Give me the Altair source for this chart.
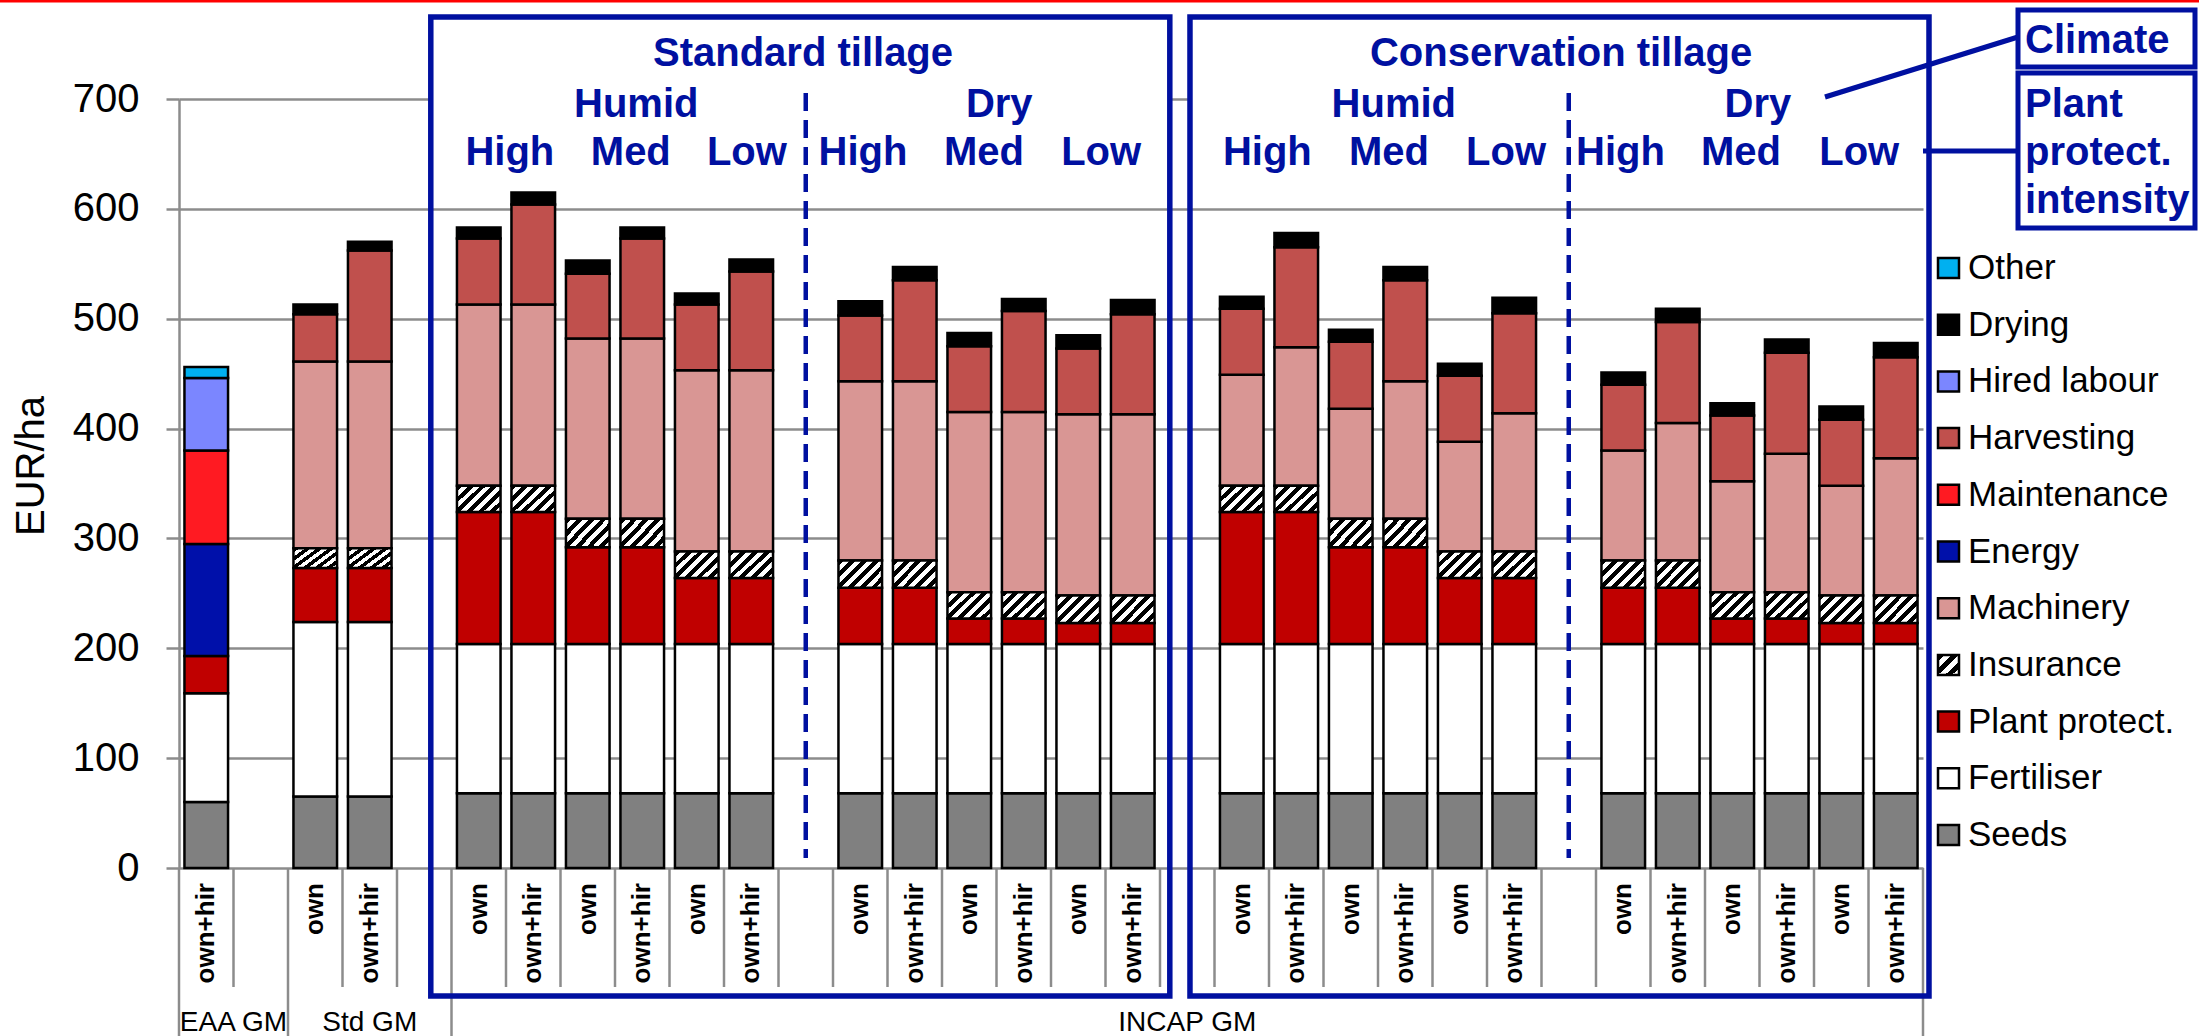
import altair as alt
import pandas as pd

# ---------------------------------------------------------------------------
# Cost components (bottom of each stack first) and their fills
components = ["Seeds", "Fertiliser", "Plant protect.", "Insurance", "Machinery",
              "Energy", "Maintenance", "Harvesting", "Hired labour", "Drying", "Other"]
component_colors = ["#808080", "#FFFFFF", "#C00000", "#FFFFFF", "#D99694",
                    "#0010AA", "#FF1A22", "#C0504D", "#7B86FF", "#000000", "#00B0F0"]

# Legend entries, top to bottom
legend_order = ["Other", "Drying", "Hired labour", "Harvesting", "Maintenance", "Energy",
                "Machinery", "Insurance", "Plant protect.", "Fertiliser", "Seeds"]

# Category slots on the x axis (empty slots separate the groups)
n_slots = 32
bar_slot = [0, 2, 3, 5, 6, 7, 8, 9, 10, 12, 13, 14, 15, 16, 17,
            19, 20, 21, 22, 23, 24, 26, 27, 28, 29, 30, 31]
bar_label = ["own+hir", "own", "own+hir",
             "own", "own+hir", "own", "own+hir", "own", "own+hir",
             "own", "own+hir", "own", "own+hir", "own", "own+hir",
             "own", "own+hir", "own", "own+hir", "own", "own+hir",
             "own", "own+hir", "own", "own+hir", "own", "own+hir"]

group_names = ["EAA GM", "Std GM", "INCAP GM"]
group_start = [0, 2, 5]
group_end = [2, 5, 32]

# EUR/ha per component, one value per bar
seeds = [60, 65, 65, 68, 68, 68, 68, 68, 68, 68, 68, 68, 68, 68, 68,
         68, 68, 68, 68, 68, 68, 68, 68, 68, 68, 68, 68]
fertiliser = [99, 159, 159, 136, 136, 136, 136, 136, 136, 136, 136, 136, 136, 136, 136,
              136, 136, 136, 136, 136, 136, 136, 136, 136, 136, 136, 136]
plant_protect = [34, 49, 49, 120, 120, 88, 88, 60, 60, 51, 51, 23, 23, 19, 19,
                 120, 120, 88, 88, 60, 60, 51, 51, 23, 23, 19, 19]
insurance = [0, 18, 18, 24, 24, 26, 26, 24, 24, 25, 25, 24, 24, 25, 25,
             24, 24, 26, 26, 24, 24, 25, 25, 24, 24, 25, 25]
machinery = [0, 170, 170, 165, 165, 164, 164, 165, 165, 163, 163, 164, 164, 165, 165,
             101, 126, 100, 125, 100, 126, 100, 125, 101, 126, 100, 125]
energy = [102, 0, 0, 0, 0, 0, 0, 0, 0, 0, 0, 0, 0, 0, 0,
          0, 0, 0, 0, 0, 0, 0, 0, 0, 0, 0, 0]
maintenance = [85, 0, 0, 0, 0, 0, 0, 0, 0, 0, 0, 0, 0, 0, 0,
               0, 0, 0, 0, 0, 0, 0, 0, 0, 0, 0, 0]
harvesting = [0, 43, 101, 60, 91, 59, 91, 60, 90, 60, 92, 60, 92, 60, 91,
              60, 91, 61, 92, 60, 91, 60, 92, 60, 92, 60, 92]
hired_labour = [66, 0, 0, 0, 0, 0, 0, 0, 0, 0, 0, 0, 0, 0, 0,
                0, 0, 0, 0, 0, 0, 0, 0, 0, 0, 0, 0]
drying = [0, 9, 8, 10, 11, 12, 10, 10, 11, 13, 12, 12, 11, 12, 13,
          11, 13, 11, 12, 11, 14, 11, 12, 11, 12, 12, 13]
other = [10, 0, 0, 0, 0, 0, 0, 0, 0, 0, 0, 0, 0, 0, 0,
         0, 0, 0, 0, 0, 0, 0, 0, 0, 0, 0, 0]

series = [seeds, fertiliser, plant_protect, insurance, machinery, energy,
          maintenance, harvesting, hired_labour, drying, other]

# Scenario headings over the bars (x in slot units)
headings = [
    ("Standard tillage", 11.45, 0), ("Humid", 8.39, 1), ("Dry", 15.05, 1),
    ("High", 6.07, 2), ("Med", 8.29, 2), ("Low", 10.42, 2),
    ("High", 12.55, 2), ("Med", 14.77, 2), ("Low", 16.92, 2),
    ("Conservation tillage", 25.36, 0), ("Humid", 22.29, 1), ("Dry", 28.97, 1),
    ("High", 19.97, 2), ("Med", 22.2, 2), ("Low", 24.35, 2),
    ("High", 26.45, 2), ("Med", 28.66, 2), ("Low", 30.83, 2),
]

# ---------------------------------------------------------------------------
# Layout
LEFT, TOP, W, H = 179, 99, 1744, 769
RIGHT, BOTTOM = 2199 - LEFT - W, 1036 - TOP - H
BLUE = "#0010A0"
GRID = "#8C8C8C"
FONT = "Liberation Sans"
heading_rows = [-33, 18, 66]

xs = alt.Scale(domain=[0, n_slots], nice=False, zero=False)
ys = alt.Scale(domain=[0, 700], nice=False)


def hatch(periods, x2, y2, ink=0.5):
    """Diagonal black/white stripes as a hard-stop linear gradient."""
    stops = []
    for k in range(periods):
        a, b, c = k / periods, (k + ink) / periods, (k + 1) / periods
        stops += [{"offset": a, "color": "black"}, {"offset": b, "color": "black"},
                  {"offset": b, "color": "white"}, {"offset": c, "color": "white"}]
    return {"gradient": "linear", "x1": 0, "y1": 0, "x2": x2, "y2": y2, "stops": stops}


# Stacked segments
rows = []
totals = []
for i, slot in enumerate(bar_slot):
    base = 0
    for comp, vals in zip(components, series):
        v = vals[i]
        if v > 0:
            rows.append({"slot": slot, "x0": slot + 0.1, "x1": slot + 0.9,
                         "comp": comp, "y0": base, "y1": base + v})
        base += v
    totals.append({"x0": slot + 0.1, "x1": slot + 0.9, "total": base})
seg_df = pd.DataFrame(rows)
tot_df = pd.DataFrame(totals)

y_axis = alt.Axis(values=list(range(0, 701, 100)), grid=True, gridColor=GRID, gridWidth=2.5,
                  domainColor=GRID, domainWidth=2.5, tickColor=GRID, tickWidth=2.5,
                  tickSize=13, labelFont=FONT, labelFontSize=40, labelColor="black",
                  labelPadding=27, title="")

# Slight drop shadow on the right of each column
shadow = alt.Chart(tot_df).mark_rect(fill="black", xOffset=2).encode(
    x=alt.X("x0:Q", scale=xs, axis=None), x2="x1:Q",
    y=alt.Y("total:Q", scale=ys, axis=y_axis), y2=alt.datum(0),
)

bars = alt.Chart(seg_df).transform_filter(alt.datum.comp != "Insurance").mark_rect(
    stroke="black", strokeWidth=2.5
).encode(
    x=alt.X("x0:Q", scale=xs, axis=None),
    x2="x1:Q",
    y=alt.Y("y0:Q", scale=ys),
    y2="y1:Q",
    fill=alt.Fill("comp:N", scale=alt.Scale(domain=components, range=component_colors),
                  legend=None),
)

ins_bars = alt.Chart(seg_df).transform_filter(alt.datum.comp == "Insurance").mark_rect(
    fill=hatch(6, 1.17, 0.725), stroke="black", strokeWidth=2.5
).encode(
    x=alt.X("x0:Q", scale=xs, axis=None), x2="x1:Q",
    y=alt.Y("y0:Q", scale=ys), y2="y1:Q",
)

# Category axis: labels and separators
cat_df = pd.DataFrame({"xc": [s + 0.5 for s in bar_slot], "label": bar_label})
cat_labels = alt.Chart(cat_df).mark_text(
    angle=270, align="right", baseline="middle", font=FONT, fontSize=26,
    fontWeight="bold", color="black"
).encode(x=alt.X("xc:Q", scale=xs, axis=None), y=alt.value(784), text="label:N")

long_b = sorted(set(group_start + group_end))
short_b = [b for b in range(1, n_slots) if b not in long_b]
sep_short = alt.Chart(pd.DataFrame({"b": short_b})).mark_rule(
    color=GRID, strokeWidth=2.5
).encode(x=alt.X("b:Q", scale=xs, axis=None), y=alt.value(H), y2=alt.value(888))
sep_long = alt.Chart(pd.DataFrame({"b": long_b})).mark_rule(
    color=GRID, strokeWidth=2.5
).encode(x=alt.X("b:Q", scale=xs, axis=None), y=alt.value(H), y2=alt.value(940))

grp_df = pd.DataFrame({"name": group_names,
                       "xc": [(a + b) / 2 for a, b in zip(group_start, group_end)]})
grp_labels = alt.Chart(grp_df).mark_text(
    align="center", baseline="alphabetic", font=FONT, fontSize=28, color="black"
).encode(x=alt.X("xc:Q", scale=xs, axis=None), y=alt.value(932), text="name:N")

# Tillage boxes
box_df = pd.DataFrame({"x0": [4.62, 18.55], "x1": [18.18, 32.11]})
box_fill = alt.Chart(box_df).mark_rect(fill="white").encode(
    x=alt.X("x0:Q", scale=xs, axis=None), x2="x1:Q", y=alt.value(-82), y2=alt.value(82))
box_line = alt.Chart(box_df).mark_rect(
    fillOpacity=0, stroke=BLUE, strokeWidth=5.5
).encode(x=alt.X("x0:Q", scale=xs, axis=None), x2="x1:Q", y=alt.value(-82), y2=alt.value(897))

dash_df = pd.DataFrame({"xc": [11.5, 25.5]})
dashes = alt.Chart(dash_df).mark_rule(
    color=BLUE, strokeWidth=4.5, strokeDash=[18, 9]
).encode(x=alt.X("xc:Q", scale=xs, axis=None), y=alt.value(-6), y2=alt.value(759))

head_df = pd.DataFrame({"label": [h[0] for h in headings],
                        "xc": [h[1] for h in headings],
                        "py": [heading_rows[h[2]] for h in headings]})
head_text = alt.Chart(head_df).mark_text(
    align="center", baseline="alphabetic", font=FONT, fontSize=40, fontWeight="bold",
    color=BLUE
).encode(x=alt.X("xc:Q", scale=xs, axis=None), y=alt.Y("py:Q", scale=None, axis=None),
         text="label:N")

# Call-out boxes on the right
call_box_df = pd.DataFrame({"x0": [1839, 1839], "x1": [2016, 2016],
                            "y0": [-89, -26], "y1": [-32, 129]})
call_boxes = alt.Chart(call_box_df).mark_rect(
    fill="white", stroke=BLUE, strokeWidth=5
).encode(x=alt.X("x0:Q", scale=None, axis=None), x2="x1:Q",
         y=alt.Y("y0:Q", scale=None, axis=None), y2="y1:Q")

call_text_df = pd.DataFrame({"label": ["Climate", "Plant", "protect.", "intensity"],
                             "px": [1846, 1846, 1846, 1846],
                             "py": [-46, 18, 66, 114]})
call_text = alt.Chart(call_text_df).mark_text(
    align="left", baseline="alphabetic", font=FONT, fontSize=40, fontWeight="bold",
    color=BLUE
).encode(x=alt.X("px:Q", scale=None, axis=None), y=alt.Y("py:Q", scale=None, axis=None),
         text="label:N")

link_df = pd.DataFrame({"x0": [1646, 1744], "y0": [-2, 52], "x1": [1839, 1839], "y1": [-62, 52]})
links = alt.Chart(link_df).mark_rule(color=BLUE, strokeWidth=5).encode(
    x=alt.X("x0:Q", scale=None, axis=None), y=alt.Y("y0:Q", scale=None, axis=None),
    x2="x1:Q", y2="y1:Q")

# Legend
leg_color = dict(zip(components, component_colors))
leg_rows = []
for i, name in enumerate(legend_order):
    cy = 169 + 56.7 * i
    leg_rows.append({"name": name, "color": leg_color[name],
                     "x0": 1759, "x1": 1780, "y0": cy - 10, "y1": cy + 10,
                     "tx": 1789, "ty": cy})
leg_df = pd.DataFrame(leg_rows)
leg_sq = alt.Chart(leg_df).transform_filter(alt.datum.name != "Insurance").mark_rect(
    stroke="black", strokeWidth=2.5
).encode(x=alt.X("x0:Q", scale=None, axis=None), x2="x1:Q",
         y=alt.Y("y0:Q", scale=None, axis=None), y2="y1:Q",
         fill=alt.Fill("color:N", scale=None, legend=None))
leg_ins = alt.Chart(leg_df).transform_filter(alt.datum.name == "Insurance").mark_rect(
    fill=hatch(3, 1, 1), stroke="black", strokeWidth=2.5
).encode(x=alt.X("x0:Q", scale=None, axis=None), x2="x1:Q",
         y=alt.Y("y0:Q", scale=None, axis=None), y2="y1:Q")
leg_text = alt.Chart(leg_df).mark_text(
    align="left", baseline="middle", font=FONT, fontSize=35, color="black"
).encode(x=alt.X("tx:Q", scale=None, axis=None), y=alt.Y("ty:Q", scale=None, axis=None),
         text="name:N")

# Y axis title and top rule
y_title = alt.Chart(pd.DataFrame({"t": ["EUR/ha"]})).mark_text(
    angle=270, align="center", baseline="middle", font=FONT, fontSize=40, color="black"
).encode(x=alt.value(-147), y=alt.value(367), text="t:N")

top_rule = alt.Chart(pd.DataFrame({"t": [0]})).mark_rule(color="#FF0000", strokeWidth=3).encode(
    x=alt.value(-LEFT), x2=alt.value(W + RIGHT), y=alt.value(-TOP + 1))

chart = alt.layer(
    shadow, bars, ins_bars, sep_short, sep_long, cat_labels, grp_labels,
    box_fill, box_line, dashes, head_text,
    links, call_boxes, call_text,
    leg_sq, leg_ins, leg_text, y_title, top_rule,
).properties(
    width=W, height=H,
    padding={"left": LEFT, "top": TOP, "right": RIGHT, "bottom": BOTTOM},
    autosize=alt.AutoSizeParams(type="none"),
    background="white",
).configure_view(strokeWidth=0)

chart.save("out.html", embed_options={"renderer": "svg", "actions": False})
